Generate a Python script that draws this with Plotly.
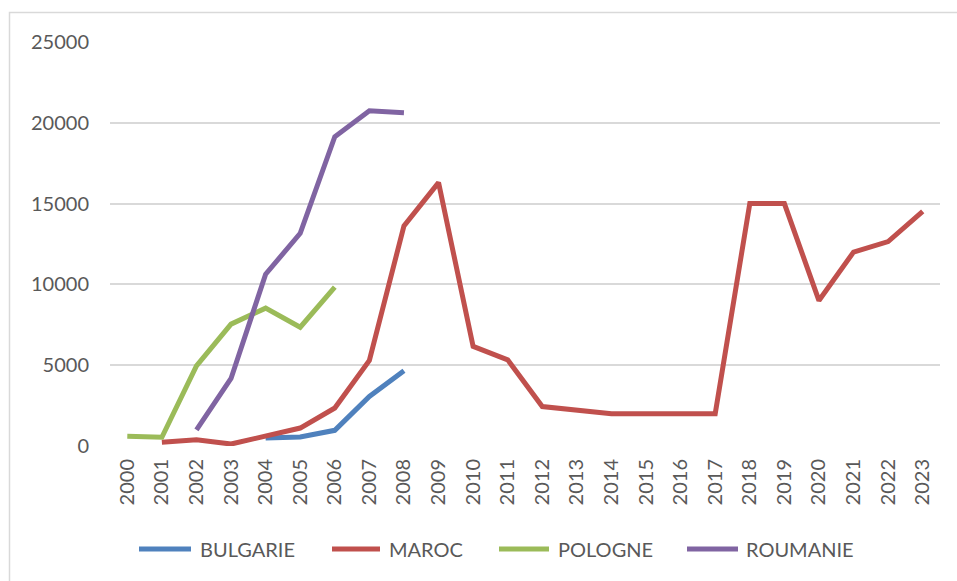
import plotly.graph_objects as go

# Years on the category axis
years = list(range(2000, 2024))

# Series values (None where a country has no figure for that year)
bulgarie = [None, None, None, None, 500, 560, 970, 3070, 4660] + [None] * 15
maroc = [None, 230, 390, 120, 650, 1110, 2350, 5300, 13620, 16300,
         6160, 5330, 2440, 2190, 2000, 2000, 2000, 2000, 15000, 15000,
         9000, 12000, 12650, 14520]
pologne = [600, 540, 4960, 7540, 8530, 7350, 9830] + [None] * 17
roumanie = [None, None, 1000, 4180, 10630, 13160, 19140, 20740, 20620] + [None] * 15

series_names = ["BULGARIE", "MAROC", "POLOGNE", "ROUMANIE"]
series_values = [bulgarie, maroc, pologne, roumanie]
series_colors = ["#4F81BD", "#C0504D", "#9BBB59", "#8064A2"]

y_ticks = [0, 5000, 10000, 15000, 20000, 25000]

FONT = "Lato"
TEXT_COLOR = "#595959"
GRID_COLOR = "#D9D9D9"

W, H = 957, 581
ML, MR, MT, MB = 110, 17, 42, 135
PW, PH = W - ML - MR, H - MT - MB


def px_to_paper_x(px):
    return (px - ML) / PW


def px_to_paper_y(py):
    return (H - MB - py) / PH


fig = go.Figure()
for name, vals, col in zip(series_names, series_values, series_colors):
    fig.add_trace(go.Scatter(
        x=years, y=vals, name=name, mode="lines",
        line=dict(color=col, width=5),
        connectgaps=False, showlegend=False,
    ))

# Outer chart border (top and left edges visible)
fig.add_shape(type="rect", xref="paper", yref="paper",
              x0=px_to_paper_x(9.5), x1=px_to_paper_x(W + 20),
              y0=px_to_paper_y(H + 20), y1=px_to_paper_y(12.5),
              line=dict(color=GRID_COLOR, width=1.5), layer="below")

# Legend row under the axis
legend_y = px_to_paper_y(549)
legend_items = [(137, 193, 198), (330, 382, 387), (497, 551, 556), (685, 740, 744)]
for (lx0, lx1, tx), name, col in zip(legend_items, series_names, series_colors):
    fig.add_shape(type="line", xref="paper", yref="paper",
                  x0=px_to_paper_x(lx0 + 2), x1=px_to_paper_x(lx1 - 2),
                  y0=legend_y, y1=legend_y,
                  line=dict(color=col, width=5))
    fig.add_annotation(xref="paper", yref="paper",
                       x=px_to_paper_x(tx), y=legend_y,
                       text=name, showarrow=False,
                       xanchor="left", yanchor="middle",
                       font=dict(family=FONT, size=20, color=TEXT_COLOR))

fig.update_layout(
    width=W, height=H,
    margin=dict(l=ML, r=MR, t=MT, b=MB),
    paper_bgcolor="white", plot_bgcolor="white",
    font=dict(family=FONT, size=20, color=TEXT_COLOR),
    showlegend=False,
    xaxis=dict(
        range=[1999.5, 2023.5],
        tickmode="array", tickvals=years, ticktext=[str(y) for y in years],
        tickangle=-90, showgrid=False, zeroline=False,
        showline=False, ticks="", ticklabelstandoff=8,
        tickfont=dict(family=FONT, size=20, color=TEXT_COLOR),
    ),
    yaxis=dict(
        range=[0, 25000],
        tickmode="array", tickvals=y_ticks, ticktext=[str(v) for v in y_ticks],
        showgrid=True, gridcolor=GRID_COLOR, gridwidth=1.5,
        zeroline=False, showline=False, ticks="", ticklabelstandoff=20,
        tickfont=dict(family=FONT, size=20, color=TEXT_COLOR),
    ),
)

fig.write_html("out.html")
